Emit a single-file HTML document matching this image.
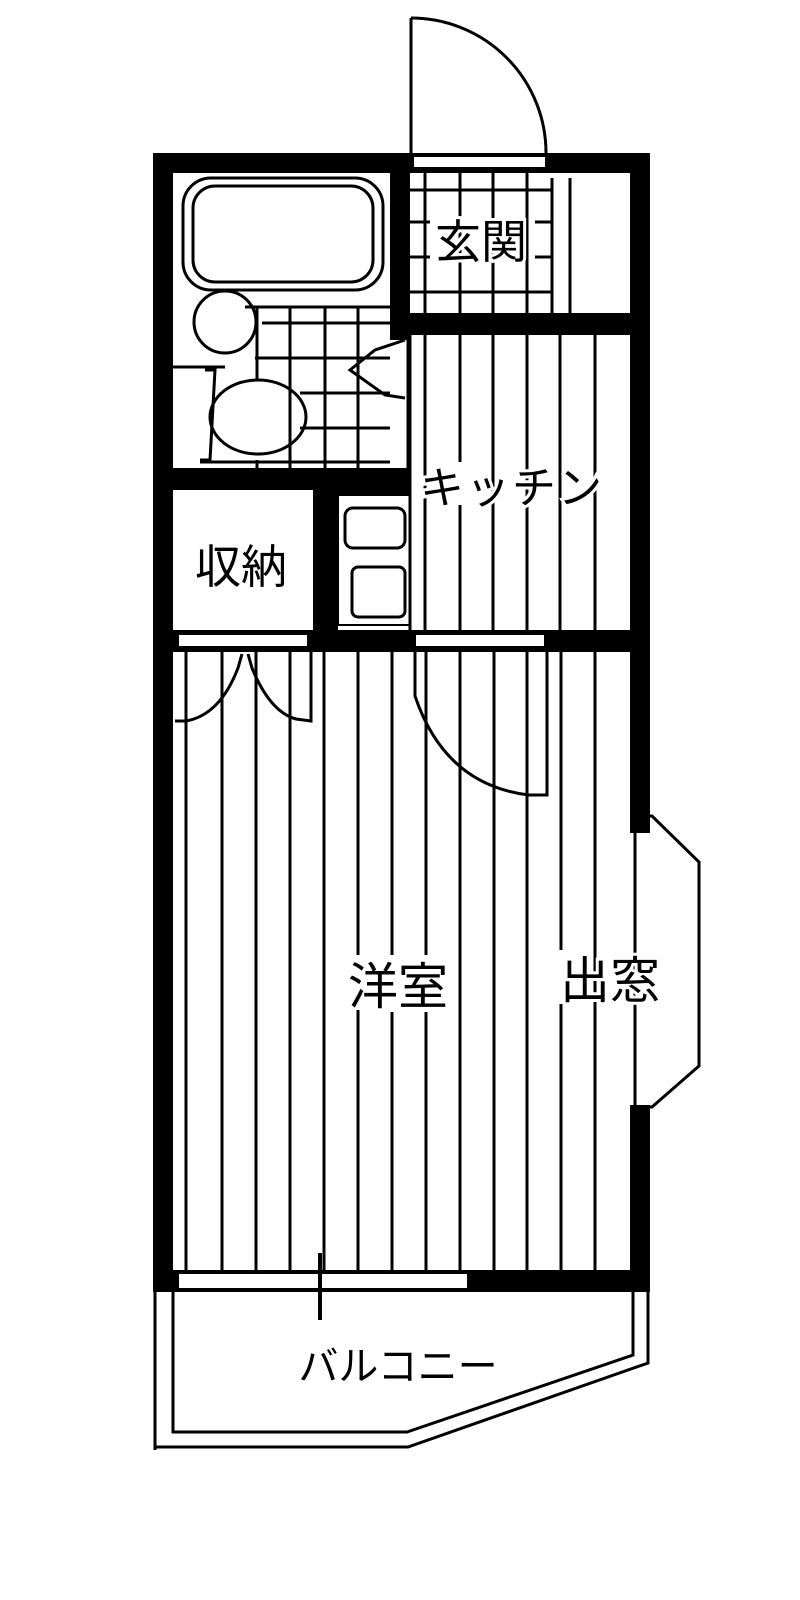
<!DOCTYPE html>
<html><head><meta charset="utf-8"><style>
html,body{margin:0;padding:0;background:#fff;}
svg{display:block;}
text{font-family:"Liberation Sans","Noto Sans CJK JP",sans-serif;fill:#000;}
</style></head><body>
<svg width="800" height="1600" viewBox="0 0 800 1600" xmlns="http://www.w3.org/2000/svg">
<rect width="800" height="1600" fill="#fff"/>
<g stroke="#000" stroke-width="3" fill="none">
<!-- entry door -->
<line x1="411" y1="18" x2="411" y2="155"/>
<path d="M411 18 A135 135 0 0 1 546 153"/>
</g>
<!-- outer walls -->
<g fill="#000">
<rect x="153" y="153" width="497" height="20"/>
<rect x="153" y="153" width="20" height="1139"/>
<rect x="630" y="153" width="20" height="680"/>
<rect x="630" y="1105" width="20" height="187"/>
<rect x="153" y="1270" width="497" height="22"/>
<!-- interior walls -->
<rect x="390" y="173" width="20" height="167"/>
<rect x="410" y="313" width="220" height="22"/>
<rect x="153" y="468" width="257" height="22"/>
<rect x="313" y="490" width="25" height="145"/>
<rect x="338" y="490" width="72" height="5"/>
<rect x="153" y="630" width="477" height="22"/>
</g>
<!-- white openings -->
<g fill="#fff" stroke="#000" stroke-width="2">
<rect x="413" y="156" width="133" height="12"/>
<rect x="178" y="634" width="130" height="13"/>
<rect x="415" y="634" width="130" height="13"/>
<rect x="178" y="1273" width="290" height="16"/>
</g>
<g stroke="#000" stroke-width="3" fill="none">
<!-- genkan tiles -->
<line x1="425" y1="173" x2="425" y2="313"/>
<line x1="460" y1="173" x2="460" y2="313"/>
<line x1="493" y1="173" x2="493" y2="313"/>
<line x1="527" y1="173" x2="527" y2="313"/>
<line x1="552" y1="178" x2="552" y2="313"/>
<line x1="570" y1="178" x2="570" y2="313"/>
<line x1="410" y1="190" x2="552" y2="190"/>
<line x1="410" y1="222" x2="430" y2="222"/>
<line x1="535" y1="222" x2="552" y2="222"/>
<line x1="410" y1="257" x2="430" y2="257"/>
<line x1="535" y1="257" x2="552" y2="257"/>
<line x1="410" y1="292" x2="552" y2="292"/>
<!-- bathtub -->
<rect x="183" y="178" width="200" height="112" rx="28" stroke-width="3"/>
<rect x="193" y="186" width="180" height="96" rx="22" stroke-width="3"/>
<!-- sink -->
<circle cx="225" cy="322" r="31"/>
<line x1="173" y1="367" x2="225" y2="367"/>
<!-- toilet -->
<ellipse cx="258" cy="417" rx="48" ry="37"/>
<path d="M205 370 L215 370 L210 460 L200 460"/>
<!-- bathroom tiles -->
<line x1="257" y1="307" x2="257" y2="380"/>
<line x1="290" y1="307" x2="290" y2="468"/>
<line x1="325" y1="307" x2="325" y2="468"/>
<line x1="358" y1="307" x2="358" y2="468"/>
<line x1="257" y1="460" x2="257" y2="468"/>
<line x1="245" y1="307" x2="390" y2="307"/>
<line x1="262" y1="323" x2="390" y2="323"/>
<line x1="255" y1="358" x2="390" y2="358"/>
<line x1="300" y1="393" x2="390" y2="393"/>
<line x1="300" y1="428" x2="390" y2="428"/>
<line x1="200" y1="462" x2="390" y2="462"/>
<!-- bathroom door -->
<path d="M405 340 L375 350 L350 370 L385 395 L405 398"/>
<line x1="408" y1="340" x2="408" y2="468"/>
<!-- kitchen floor -->
<line x1="410" y1="335" x2="410" y2="630"/>
<line x1="425" y1="335" x2="425" y2="630"/>
<line x1="460" y1="335" x2="460" y2="462"/>
<line x1="460" y1="505" x2="460" y2="630"/>
<line x1="493" y1="335" x2="493" y2="630"/>
<line x1="527" y1="335" x2="527" y2="630"/>
<line x1="560" y1="335" x2="560" y2="630"/>
<line x1="595" y1="335" x2="595" y2="630"/>
<!-- alcove -->
<rect x="338" y="495" width="72" height="130" stroke-width="2"/>
<rect x="345" y="508" width="60" height="40" rx="8"/>
<rect x="352" y="567" width="53" height="50" rx="6"/>
<!-- room floor lines -->
<line x1="186" y1="652" x2="186" y2="1270"/>
<line x1="222" y1="652" x2="222" y2="1270"/>
<line x1="256" y1="652" x2="256" y2="1270"/>
<line x1="290" y1="652" x2="290" y2="1270"/>
<line x1="324" y1="652" x2="324" y2="1270"/>
<line x1="358" y1="652" x2="358" y2="955"/>
<line x1="358" y1="1010" x2="358" y2="1270"/>
<line x1="392" y1="652" x2="392" y2="955"/>
<line x1="392" y1="1012" x2="392" y2="1270"/>
<line x1="426" y1="652" x2="426" y2="955"/>
<line x1="426" y1="1012" x2="426" y2="1270"/>
<line x1="460" y1="652" x2="460" y2="1270"/>
<line x1="494" y1="652" x2="494" y2="1270"/>
<line x1="527" y1="652" x2="527" y2="1270"/>
<line x1="561" y1="652" x2="561" y2="950"/>
<line x1="561" y1="1004" x2="561" y2="1270"/>
<line x1="595" y1="652" x2="595" y2="1270"/>
<!-- closet bifold doors -->
<path d="M175 721 L186 721 Q220 715 238 668 L242 654"/>
<path d="M248 654 L252 668 Q270 712 296 719 L311 721 L311 652"/>
<!-- kitchen door swing -->
<path d="M415 652 L415 696 Q445 785 529 795 L547 795 L547 652"/>
<!-- bay window -->
<line x1="635" y1="833" x2="635" y2="1105"/>
<path d="M635 816 L652 816 L699 862 L699 1066 L652 1107 L635 1107"/>
<!-- balcony -->
<path d="M155 1292 L155 1450"/>
<path d="M155 1447 L408 1447 L648 1363 L648 1292"/>
<path d="M173 1292 L173 1432 L407 1432 L633 1355 L633 1292"/>
<line x1="320" y1="1253" x2="320" y2="1320" stroke-width="4"/>
</g>
<!-- labels -->
<text x="481" y="258" font-size="46" text-anchor="middle" stroke="#fff" stroke-width="6" paint-order="stroke">玄関</text>
<text x="241" y="583" font-size="46" text-anchor="middle">収納</text>
<text x="512" y="503" font-size="44" text-anchor="middle" letter-spacing="2" stroke="#fff" stroke-width="6" paint-order="stroke">キッチン</text>
<text x="398" y="1004" font-size="50" text-anchor="middle" stroke="#fff" stroke-width="6" paint-order="stroke">洋室</text>
<text x="610" y="998" font-size="50" text-anchor="middle" stroke="#fff" stroke-width="6" paint-order="stroke">出窓</text>
<text x="398" y="1380" font-size="40" text-anchor="middle">バルコニー</text>
</svg>
</body></html>
